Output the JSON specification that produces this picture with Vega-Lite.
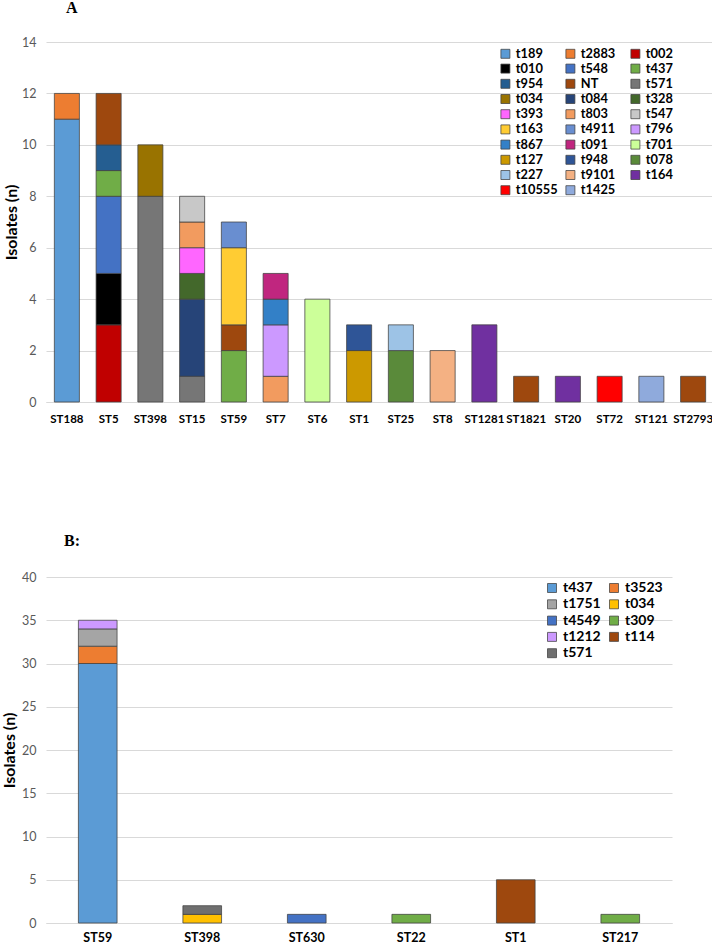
{
  "$schema": "https://vega.github.io/schema/vega-lite/v6.json",
  "padding": {"left": 1, "top": 0, "right": 0, "bottom": 0},
  "background": "white",
  "datasets": {
    "a": [
      {"st": "ST188", "spa": "t189", "n": 11, "s": 0},
      {"st": "ST188", "spa": "t2883", "n": 1, "s": 1},
      {"st": "ST5", "spa": "t002", "n": 3, "s": 2},
      {"st": "ST5", "spa": "t010", "n": 2, "s": 3},
      {"st": "ST5", "spa": "t548", "n": 3, "s": 4},
      {"st": "ST5", "spa": "t437", "n": 1, "s": 5},
      {"st": "ST5", "spa": "t954", "n": 1, "s": 6},
      {"st": "ST5", "spa": "NT", "n": 2, "s": 7},
      {"st": "ST398", "spa": "t571", "n": 8, "s": 8},
      {"st": "ST398", "spa": "t034", "n": 2, "s": 9},
      {"st": "ST15", "spa": "t571", "n": 1, "s": 8},
      {"st": "ST15", "spa": "t084", "n": 3, "s": 10},
      {"st": "ST15", "spa": "t328", "n": 1, "s": 11},
      {"st": "ST15", "spa": "t393", "n": 1, "s": 12},
      {"st": "ST15", "spa": "t803", "n": 1, "s": 13},
      {"st": "ST15", "spa": "t547", "n": 1, "s": 14},
      {"st": "ST59", "spa": "t437", "n": 2, "s": 5},
      {"st": "ST59", "spa": "NT", "n": 1, "s": 7},
      {"st": "ST59", "spa": "t163", "n": 3, "s": 15},
      {"st": "ST59", "spa": "t4911", "n": 1, "s": 16},
      {"st": "ST7", "spa": "t803", "n": 1, "s": 13},
      {"st": "ST7", "spa": "t796", "n": 2, "s": 17},
      {"st": "ST7", "spa": "t867", "n": 1, "s": 18},
      {"st": "ST7", "spa": "t091", "n": 1, "s": 19},
      {"st": "ST6", "spa": "t701", "n": 4, "s": 20},
      {"st": "ST1", "spa": "t127", "n": 2, "s": 21},
      {"st": "ST1", "spa": "t948", "n": 1, "s": 22},
      {"st": "ST25", "spa": "t078", "n": 2, "s": 23},
      {"st": "ST25", "spa": "t227", "n": 1, "s": 24},
      {"st": "ST8", "spa": "t9101", "n": 2, "s": 25},
      {"st": "ST1281", "spa": "t164", "n": 3, "s": 26},
      {"st": "ST1821", "spa": "NT", "n": 1, "s": 7},
      {"st": "ST20", "spa": "t164", "n": 1, "s": 26},
      {"st": "ST72", "spa": "t10555", "n": 1, "s": 27},
      {"st": "ST121", "spa": "t1425", "n": 1, "s": 28},
      {"st": "ST2793", "spa": "NT", "n": 1, "s": 7}
    ],
    "b": [
      {"st": "ST59", "spa": "t437", "n": 30, "s": 0},
      {"st": "ST59", "spa": "t3523", "n": 2, "s": 1},
      {"st": "ST59", "spa": "t1751", "n": 2, "s": 2},
      {"st": "ST59", "spa": "t1212", "n": 1, "s": 6},
      {"st": "ST398", "spa": "t034", "n": 1, "s": 3},
      {"st": "ST398", "spa": "t571", "n": 1, "s": 8},
      {"st": "ST630", "spa": "t4549", "n": 1, "s": 4},
      {"st": "ST22", "spa": "t309", "n": 1, "s": 5},
      {"st": "ST1", "spa": "t114", "n": 5, "s": 7},
      {"st": "ST217", "spa": "t309", "n": 1, "s": 5}
    ]
  },
  "spacing": 108,
  "vconcat": [
    {
      "width": 668,
      "height": 360,
      "title": {"text": "A", "anchor": "start", "frame": "group", "dx": 20, "offset": 20, "font": "Liberation Serif", "fontSize": 16, "fontWeight": "bold", "color": "black"},
      "data": {"name": "a"},
      "mark": {"type": "bar", "stroke": "#404040", "strokeWidth": 0.75},
      "encoding": {
        "x": {
          "field": "st", "type": "nominal",
          "sort": ["ST188", "ST5", "ST398", "ST15", "ST59", "ST7", "ST6", "ST1", "ST25", "ST8", "ST1281", "ST1821", "ST20", "ST72", "ST121", "ST2793"],
          "scale": {"paddingInner": 0.4, "paddingOuter": 0.2},
          "axis": {"title": null, "labelAngle": 0, "labelPadding": 11, "labelFont": "Lato", "labelFontWeight": "bold", "labelFontSize": 11.5, "labelColor": "#000000", "ticks": false, "domain": true, "domainColor": "#D9D9D9", "labelOverlap": false, "labelBound": false}
        },
        "y": {
          "field": "n", "type": "quantitative", "stack": "zero",
          "scale": {"domain": [0, 14], "nice": false},
          "axis": {"title": "Isolates (n)", "values": [0, 2, 4, 6, 8, 10, 12, 14], "titleFont": "Lato", "titleFontSize": 16, "titleFontWeight": "bold", "titleColor": "#000000", "titlePadding": 2, "labelFont": "Lato", "labelFontSize": 12.5, "labelColor": "#595959", "labelPadding": 10, "ticks": false, "domain": false, "grid": true, "gridColor": "#D9D9D9", "gridWidth": 1}
        },
        "color": {
          "field": "spa", "type": "nominal",
          "scale": {
            "domain": ["t189", "t2883", "t002", "t010", "t548", "t437", "t954", "NT", "t571", "t034", "t084", "t328", "t393", "t803", "t547", "t163", "t4911", "t796", "t867", "t091", "t701", "t127", "t948", "t078", "t227", "t9101", "t164", "t10555", "t1425"],
            "range": ["#5B9BD5", "#ED7D31", "#C00000", "#000000", "#4472C4", "#70AD47", "#255E91", "#9E480E", "#767676", "#997300", "#264478", "#43682B", "#FF66FF", "#F29B5F", "#C8C8C8", "#FFCC33", "#698ED0", "#CC99FF", "#3380C7", "#C0267F", "#CCFF99", "#CC9900", "#2F5597", "#5A8A3A", "#9DC3E6", "#F4B183", "#7030A0", "#FF0000", "#8FAADC"]
          },
          "legend": {"title": null, "orient": "none", "direction": "horizontal", "legendX": 453, "legendY": 5, "columns": 3, "gridAlign": "all", "columnPadding": 6, "rowPadding": 1.2, "symbolType": "square", "symbolSize": 81, "symbolStrokeColor": "#404040", "symbolStrokeWidth": 0.75, "labelFont": "Lato", "labelFontWeight": "bold", "labelFontSize": 12.8, "labelColor": "#000000", "labelOffset": 4}
        },
        "order": {"field": "s", "type": "quantitative", "sort": "ascending"}
      }
    },
    {
      "width": 626,
      "height": 346,
      "title": {"text": "B:", "anchor": "start", "frame": "group", "dx": 18, "offset": 22, "font": "Liberation Serif", "fontSize": 16, "fontWeight": "bold", "color": "black"},
      "data": {"name": "b"},
      "mark": {"type": "bar", "stroke": "#404040", "strokeWidth": 0.75},
      "encoding": {
        "x": {
          "field": "st", "type": "nominal",
          "sort": ["ST59", "ST398", "ST630", "ST22", "ST1", "ST217"],
          "scale": {"paddingInner": 0.63, "paddingOuter": 0.31},
          "axis": {"title": null, "labelAngle": 0, "labelPadding": 8, "labelFont": "Lato", "labelFontWeight": "bold", "labelFontSize": 12.5, "labelColor": "#000000", "ticks": false, "domain": true, "domainColor": "#D9D9D9"}
        },
        "y": {
          "field": "n", "type": "quantitative", "stack": "zero",
          "scale": {"domain": [0, 40], "nice": false},
          "axis": {"title": "Isolates (n)", "values": [0, 5, 10, 15, 20, 25, 30, 35, 40], "titleFont": "Lato", "titleFontSize": 16, "titleFontWeight": "bold", "titleColor": "#000000", "titlePadding": 4, "labelFont": "Lato", "labelFontSize": 12.5, "labelColor": "#595959", "labelPadding": 10, "ticks": false, "domain": false, "grid": true, "gridColor": "#D9D9D9", "gridWidth": 1}
        },
        "color": {
          "field": "spa", "type": "nominal",
          "scale": {
            "domain": ["t437", "t3523", "t1751", "t034", "t4549", "t309", "t1212", "t114", "t571"],
            "range": ["#5B9BD5", "#ED7D31", "#A5A5A5", "#FFC000", "#4472C4", "#70AD47", "#CC99FF", "#9E480E", "#6F6F6F"]
          },
          "legend": {"title": null, "orient": "none", "direction": "horizontal", "legendX": 499, "legendY": 4, "columns": 2, "gridAlign": "all", "columnPadding": 6, "rowPadding": 2.3, "symbolType": "square", "symbolSize": 81, "symbolStrokeColor": "#404040", "symbolStrokeWidth": 0.75, "labelFont": "Lato", "labelFontWeight": "bold", "labelFontSize": 14, "labelColor": "#000000", "labelOffset": 4}
        },
        "order": {"field": "s", "type": "quantitative", "sort": "ascending"}
      }
    }
  ],
  "resolve": {"scale": {"color": "independent", "x": "independent", "y": "independent"}},
  "config": {"view": {"stroke": null}}
}
